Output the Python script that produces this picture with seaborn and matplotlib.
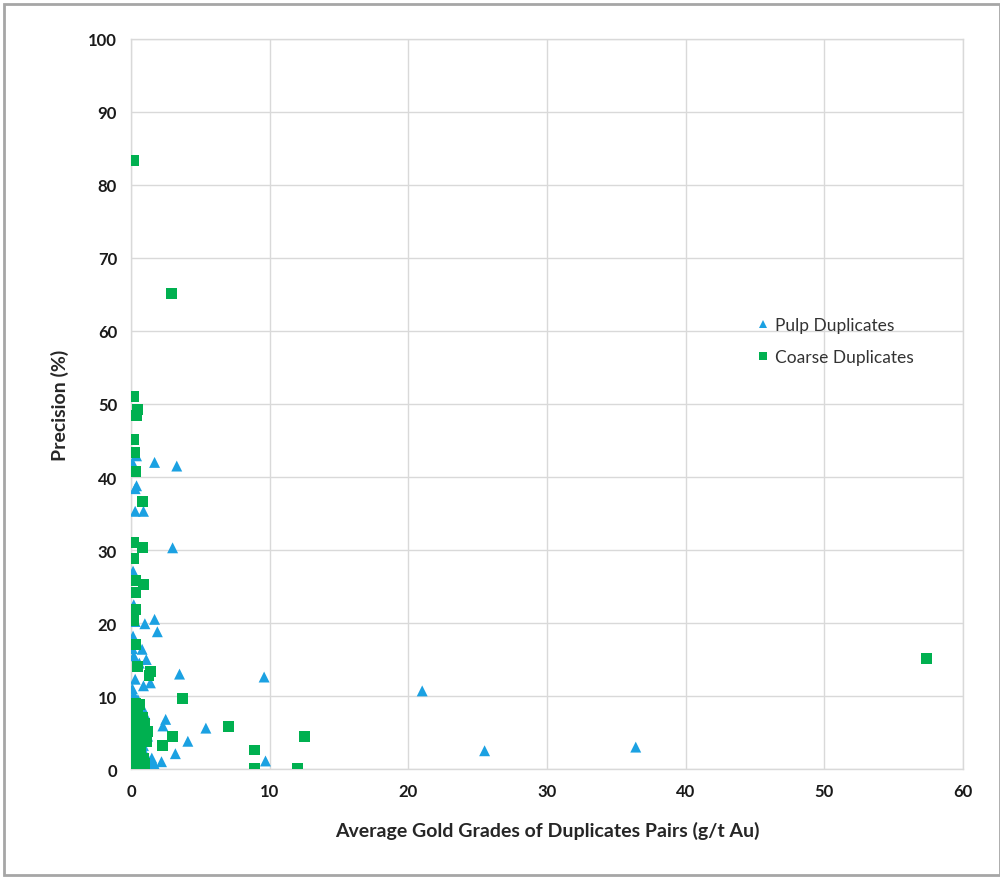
import pandas as pd
import matplotlib.pyplot as plt
import matplotlib.patches as mpatches
import seaborn as sns

# Pulp duplicates: average grade (g/t Au) vs precision (%)
pulp_x = [1.7, 3.3, 0.4, 0.1, 0.4, 0.3, 0.3, 0.9, 3.0, 0.15, 1.0, 1.7, 1.9, 0.15,
          0.2, 3.5, 1.4, 9.6, 21.0, 2.5, 2.3, 5.4, 4.1, 3.2, 2.2, 9.7, 25.5, 36.4,
          0.1, 0.2, 0.3, 0.1, 0.2, 0.5, 0.8, 1.0, 0.3, 0.6, 1.2, 0.9, 0.4, 1.5,
          1.1, 0.7, 1.8, 0.2, 0.5, 1.3, 0.1, 1.0, 0.3, 0.6, 0.8, 1.1, 0.3, 0.9, 1.2, 0.2,
          0.05, 0.6, 1.4, 0.9, 1.6, 0.4]
pulp_y = [42.0, 41.5, 42.9, 42.0, 38.8, 38.4, 35.3, 35.3, 30.3, 27.1, 19.9, 20.5, 18.8, 18.2,
          22.5, 13.0, 11.8, 12.6, 10.7, 6.8, 5.9, 5.6, 3.8, 2.1, 1.0, 1.1, 2.5, 3.0,
          16.5, 15.5, 12.3, 11.0, 10.2, 9.5, 8.5, 7.5, 6.8, 5.0, 4.5, 3.2, 2.5, 1.5,
          0.8, 0.3, 0.2, 0.1, 0.5, 0.1, 1.8, 2.2, 4.2, 14.5, 16.4, 15.0, 20.2, 11.4, 0.4, 0.3,
          0.2, 1.2, 0.6, 0.1, 0.9, 0.7]

# Coarse duplicates
coarse_x = [0.15, 2.95, 0.2, 0.5, 0.4, 0.2, 0.25, 0.3, 0.8, 0.2, 0.8, 0.2, 0.3, 0.9,
            0.3, 0.3, 0.15, 0.3, 0.5, 1.4, 1.3, 3.7, 0.3, 7.0, 12.5, 3.0, 2.3, 8.9,
            8.9, 12.0, 57.4, 0.2, 0.5, 0.8, 0.3, 1.0, 0.4, 0.9, 0.2, 0.6, 1.1, 0.3,
            0.7, 0.1, 0.5, 0.9, 0.2, 0.6, 0.1, 1.0, 0.4, 0.3, 0.7, 0.2, 1.2, 0.6]
coarse_y = [83.3, 65.1, 51.0, 49.3, 48.4, 45.2, 43.4, 40.8, 36.7, 31.0, 30.4, 28.8, 25.8, 25.3,
            24.2, 21.9, 20.3, 17.1, 14.1, 13.3, 12.8, 9.6, 9.0, 5.8, 4.4, 4.4, 3.2, 2.6,
            0.1, 0.1, 15.1, 8.0, 7.5, 7.0, 6.5, 6.2, 5.5, 5.0, 4.5, 4.0, 3.8, 3.2,
            2.8, 2.2, 1.8, 1.5, 1.0, 0.6, 0.3, 0.8, 6.0, 2.0, 4.6, 5.8, 5.2, 8.8]

df = pd.DataFrame({
    'grade': pulp_x + coarse_x,
    'precision': pulp_y + coarse_y,
    'type': ['Pulp Duplicates'] * len(pulp_x) + ['Coarse Duplicates'] * len(coarse_x),
})

sns.set_style('white')
plt.rcParams['font.family'] = ['Lato', 'DejaVu Sans']

fig = plt.figure(figsize=(10, 8.79), dpi=100)
ax = fig.add_axes([0.131, 0.124, 0.832, 0.8305])

sns.scatterplot(data=df, x='grade', y='precision', hue='type', style='type',
                palette={'Pulp Duplicates': '#1BA1E2', 'Coarse Duplicates': '#00B050'},
                markers={'Pulp Duplicates': '^', 'Coarse Duplicates': 's'},
                s=62, linewidth=0, ax=ax, zorder=3)

ax.set_xlim(0, 60)
ax.set_ylim(0, 100)
ax.set_xticks(range(0, 61, 10))
ax.set_yticks(range(0, 101, 10))
ax.grid(True, color='#d9d9d9', linewidth=1)
ax.set_axisbelow(True)
for sp in ax.spines.values():
    sp.set_color('#d9d9d9')
    sp.set_linewidth(1)
ax.tick_params(length=0, labelsize=12, pad=10, colors='#1a1a1a')
for lbl in ax.get_xticklabels() + ax.get_yticklabels():
    lbl.set_fontweight('bold')

ax.set_xlabel('Average Gold Grades of Duplicates Pairs (g/t Au)', fontsize=14,
              fontweight='bold', color='#262626', labelpad=16)
ax.set_ylabel('Precision (%)', fontsize=14, fontweight='bold', color='#262626', labelpad=14)

leg = ax.legend(loc='upper left', bbox_to_anchor=(0.73, 0.64), frameon=False,
                fontsize=12.5, handlelength=1.0, handletextpad=0.2, labelspacing=0.9,
                markerscale=0.75)
for t in leg.get_texts():
    t.set_color('#333333')

# outer frame of the chart area
fig.patches.append(mpatches.Rectangle((0.004, 0.003), 0.996, 0.991, transform=fig.transFigure,
                                      fill=False, edgecolor='#a6a6a6', linewidth=2))

fig.savefig('out.png', dpi=100)
plt.close(fig)
